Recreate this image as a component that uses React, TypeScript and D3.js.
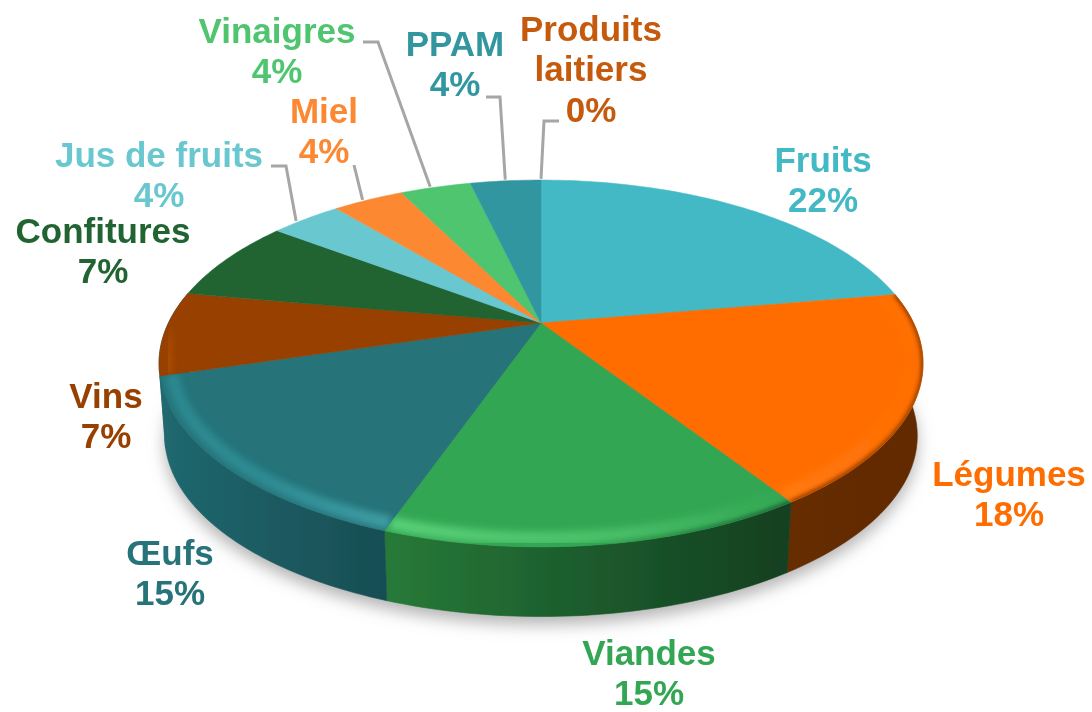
import * as d3 from "d3";

// values
const categories = ["Fruits", "Légumes", "Viandes", "Œufs", "Vins", "Confitures", "Jus de fruits", "Miel", "Vinaigres", "PPAM", "Produits laitiers"];
const shares = [22.3, 18.49, 14.61, 15, 7.4, 7.4, 3.7, 3.7, 3.7, 3.7, 0];
const colors = ["#43B9C4", "#FF6D00", "#33A653", "#257379", "#974100", "#206432", "#69C7D0", "#FD8833", "#4FC56F", "#3296A0", "#C55A11"];

const labelLines = [["Fruits"], ["Légumes"], ["Viandes"], ["Œufs"], ["Vins"], ["Confitures"], ["Jus de fruits"], ["Miel"], ["Vinaigres"], ["PPAM"], ["Produits", "laitiers"]];
const labelX = [823, 1009, 649, 170, 106, 103, 159, 324, 277, 455, 591];
const labelTop = [160, 474, 653, 553, 396, 231, 155, 111, 31, 44, 29];

// leader elbows: start point and knee, the end is taken from the slice
const leaders: Record<string, [number, number][]> = {
  "Jus de fruits": [[271, 166], [286, 166]],
  Miel: [[354, 165]],
  Vinaigres: [[363, 42], [378, 42]],
  PPAM: [[486, 97], [500, 97]],
  "Produits laitiers": [[559, 121], [544, 121]],
};
const leaderShift: Record<string, number> = { "Jus de fruits": 0.03, Miel: 0.015, Vinaigres: 0.015, PPAM: 0, "Produits laitiers": 0 };

// wall shading, left to right
const wallStops: Record<string, string[]> = {
  Légumes: ["#662d00", "#622b00"],
  Viandes: ["#277a38", "#1c5b2d", "#133f20"],
  Œufs: ["#20686f", "#1c5a61", "#184e54"],
  Vins: ["#20686f", "#20686f"],
};
// highlight on the rounded top edge
const rimStops: Record<string, string[]> = {
  Légumes: ["#ff7a10", "#ff6d00"],
  Viandes: ["#58d078", "#4cc26b", "#33a653"],
  Œufs: ["#2c8890", "#2f8c94", "#3f9ca4"],
  Vins: ["#d86400", "#974100"],
};
// dark soft edge, only where the top runs into a dark wall
const edgeOpacity: Record<string, number[]> = {
  Légumes: [1, 1],
  Viandes: [0, 0, 1],
};

const cx = 541;
const cy = 323;
const B = 372.6;
const A = 174.5;
const k = 0.2206;
const wallH = 73;
const wallScale = 0.985;

type P = [number, number];
const proj = (a: number, r = 1): P => {
  const t = r * Math.cos(a);
  const s = r * Math.sin(a);
  const den = 1 + k * t;
  return [cx + (B * s) / den, cy - (A * t) / den];
};
const low = (a: number): P => {
  const [x, y] = proj(a);
  return [cx + (x - cx) * wallScale, cy + (y - cy) * wallScale + wallH];
};
const samples = (a0: number, a1: number) => {
  const n = Math.max(2, Math.ceil(Math.abs(a1 - a0) / 0.02));
  return d3.range(n + 1).map((i) => a0 + ((a1 - a0) * i) / n);
};
const toPath = d3.line<P>().curve(d3.curveLinear);

const arcs = d3.pie<number>().sort(null).value((d) => d)(shares);

const topFace = (a0: number, a1: number) => toPath([[cx, cy] as P, ...samples(a0, a1).map((a) => proj(a))])! + "Z";
const wallPath = (a0: number, a1: number) => {
  const s = samples(a0, a1);
  return toPath([...s.map((a) => proj(a)), ...s.slice().reverse().map(low)])! + "Z";
};

const outline = toPath(samples(0, 2 * Math.PI).map(low))! + "Z";

export default function App() {
  const slices = arcs.map((d, i) => ({
    name: categories[i],
    color: colors[i],
    a0: d.startAngle,
    a1: d.endAngle,
    mid: (d.startAngle + d.endAngle) / 2,
    i,
  }));
  const walled = slices.filter((s) => wallStops[s.name]);

  return (
    <svg width={1092} height={712} style={{ position: "absolute", left: 0, top: 0, display: "block", background: "#fff" }} fontFamily="'Liberation Sans', Arial, sans-serif">
      <defs>
        <filter id="shadow" x="-10%" y="-10%" width="120%" height="130%">
          <feGaussianBlur stdDeviation="8" />
        </filter>
        <filter id="rimBlur" x="-10%" y="-10%" width="120%" height="120%">
          <feGaussianBlur stdDeviation="3.5" />
        </filter>
        <filter id="edgeBlur" x="-10%" y="-10%" width="120%" height="120%">
          <feGaussianBlur stdDeviation="2.2" />
        </filter>
        <filter id="soft" x="-2%" y="-2%" width="104%" height="104%">
          <feGaussianBlur stdDeviation="0.6" />
        </filter>
        {walled.map((s) => {
          const xs = samples(s.a0, s.a1).map((a) => proj(a)[0]);
          const [x1, x2] = d3.extent(xs) as [number, number];
          const wall = wallStops[s.name];
          const rim = rimStops[s.name];
          const edge = edgeOpacity[s.name];
          return (
            <g key={s.name}>
              <linearGradient id={`wall${s.i}`} gradientUnits="userSpaceOnUse" x1={x1} x2={x2} y1={0} y2={0}>
                {wall.map((c, j) => (
                  <stop key={j} offset={j / (wall.length - 1)} stopColor={c} />
                ))}
              </linearGradient>
              <linearGradient id={`rim${s.i}`} gradientUnits="userSpaceOnUse" x1={x1} x2={x1 + (x2 - x1) * (s.name === "Vins" ? 0.5 : 1)} y1={0} y2={0}>
                {rim.map((c, j) => (
                  <stop key={j} offset={j / (rim.length - 1)} stopColor={c} />
                ))}
              </linearGradient>
              {edge && (
                <linearGradient id={`edge${s.i}`} gradientUnits="userSpaceOnUse" x1={x1} x2={x2} y1={0} y2={0}>
                  {edge.map((o, j) => (
                    <stop key={j} offset={j / (edge.length - 1)} stopColor={wall[wall.length - 1]} stopOpacity={o} />
                  ))}
                </linearGradient>
              )}
              <clipPath id={`clip${s.i}`}>
                <path d={topFace(s.a0, s.a1)} />
              </clipPath>
            </g>
          );
        })}
      </defs>

      <g filter="url(#soft)">
        <path d={outline} transform="translate(0,8)" fill="#b4b4b4" filter="url(#shadow)" />

        {walled.map((s) => (
          <path key={s.name} d={wallPath(s.a0, s.a1)} fill={`url(#wall${s.i})`} stroke={`url(#wall${s.i})`} strokeWidth={0.6} />
        ))}

        {slices.filter((s) => s.a1 > s.a0).map((s) => (
          <path key={s.name} d={topFace(s.a0, s.a1)} fill={s.color} stroke={s.color} strokeWidth={0.5} />
        ))}

        {walled.map((s) => {
          const curve = (r: number) => toPath(samples(s.a0, s.a1).map((a) => proj(a, r)))!;
          return (
            <g key={s.name} clipPath={`url(#clip${s.i})`}>
              <path d={curve(0.97)} fill="none" stroke={`url(#rim${s.i})`} strokeWidth={13} filter="url(#rimBlur)" />
              {edgeOpacity[s.name] && <path d={curve(1)} fill="none" stroke={`url(#edge${s.i})`} strokeWidth={3} filter="url(#edgeBlur)" />}
            </g>
          );
        })}

        {slices.filter((s) => leaders[s.name]).map((s) => (
          <path
            key={s.name}
            d={toPath([...leaders[s.name], proj(s.mid - leaderShift[s.name], 1.01)])!}
            fill="none"
            stroke="#a6a6a6"
            strokeWidth={3}
          />
        ))}

        {slices.map((s) => {
          const lines = [...labelLines[s.i], `${Math.round(shares[s.i])}%`];
          return (
            <text key={s.name} textAnchor="middle" fontWeight={700} fontSize={35} fill={s.color}>
              {lines.map((t, j) => (
                <tspan key={j} x={labelX[s.i]} y={labelTop[s.i] + 12 + j * 40.4}>
                  {t}
                </tspan>
              ))}
            </text>
          );
        })}
      </g>
    </svg>
  );
}
